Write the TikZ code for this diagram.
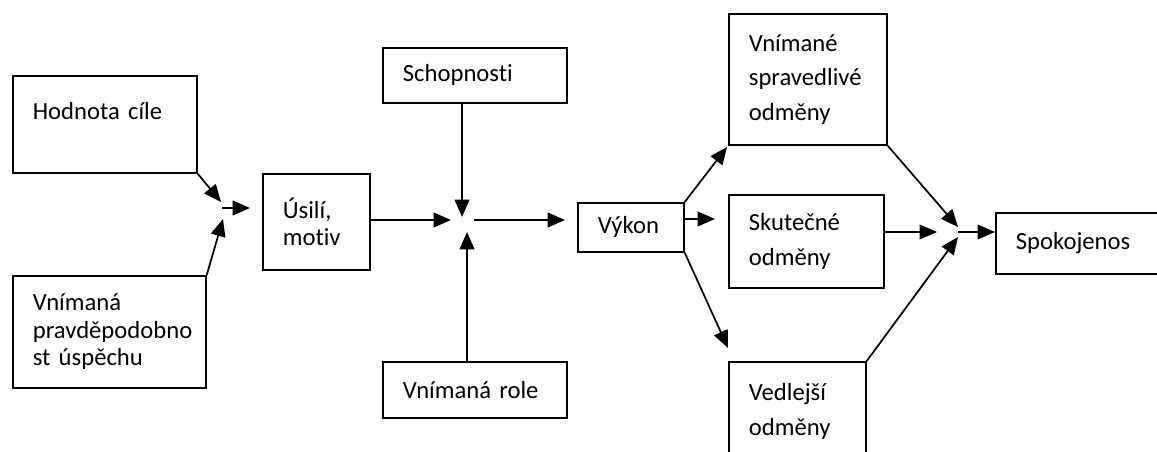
\documentclass[tikz,border=0pt]{standalone}
\usepackage{fontspec}
\setmainfont{Carlito}[Ligatures={NoCommon}]
\usetikzlibrary{arrows.meta}

\def\pxu{0.75pt}
\tikzset{
  box/.style={draw, line width=1.3pt, anchor=north west, inner xsep=20*\pxu, inner ysep=0pt, align=left, font=\fontsize{18.5}{20.5}\selectfont},
  wide/.style={font=\fontsize{18.5}{26}\selectfont},
  arr/.style={line width=1.3pt, -{Triangle[length=13pt,width=11pt]}}
}

\begin{document}
\begin{tikzpicture}[x=\pxu,y=-\pxu]
\useasboundingbox (0,0) rectangle (1157,452);
\clip (0,0) rectangle (1157,452);

\node[box, text width=144*\pxu, minimum height=97*\pxu] (hodnota) at (12,75) {Hodnota cíle\\~};
\node[box, text width=153*\pxu, minimum height=112*\pxu] (pravd) at (12,275) {Vnímaná\\pravděpodobno\\st úspěchu};
\node[box, text width=67*\pxu, minimum height=96*\pxu] (usili) at (262,173) {Úsilí,\\motiv};
\node[box, text width=144*\pxu, minimum height=55*\pxu] (schop) at (382,47) {Schopnosti};
\node[box, text width=144*\pxu, minimum height=56*\pxu] (role) at (382,361) {Vnímaná role};
\node[box, text width=66*\pxu, minimum height=49*\pxu] (vykon) at (577,202) {Výkon};
\node[box, wide, text width=118*\pxu, minimum height=131*\pxu] (sprav) at (728,13) {Vnímané\\spravedlivé\\odměny};
\node[box, wide, text width=115*\pxu, minimum height=93*\pxu] (skut) at (728,194) {Skutečné\\odměny};
\node[box, wide, text width=97*\pxu, minimum height=130*\pxu] (vedl) at (728,361) {Vedlejší\\odměny\\~};
\node[box, text width=145*\pxu, minimum height=61*\pxu] (spok) at (995,212) {Spokojenos};

\coordinate (j1a) at (221,202);
\coordinate (j1b) at (223,219);
\coordinate (j1s) at (222,208);
\coordinate (j1e) at (250,208);
\coordinate (j2a) at (462,217);
\coordinate (j2l) at (451,220);
\coordinate (j2b) at (467,232);
\coordinate (j2s) at (474,220);
\coordinate (j2e) at (565,220);
\coordinate (vk1) at (727,147);
\coordinate (vk2) at (715,219);
\coordinate (vk3) at (728,348);
\coordinate (j3a) at (958,227);
\coordinate (j3m) at (937,232);
\coordinate (j3b) at (958,237);
\coordinate (j3s) at (958,232);

\draw[arr] (hodnota.south east) -- (j1a);
\draw[arr] (pravd.north east) -- (j1b);
\draw[arr] (j1s) -- (j1e);

\draw[arr] (schop.south -| j2a) -- (j2a);
\draw[arr] (role.north -| j2b) -- (j2b);
\draw[arr] (usili.east |- j2l) -- (j2l);
\draw[arr] (j2s) -- (j2e);

\draw[arr] (vykon.north east) -- (vk1);
\draw[arr] (vykon.east |- vk2) -- (vk2);
\draw[arr] (vykon.south east) -- (vk3);

\draw[arr] (sprav.south east) -- (j3a);
\draw[arr] (skut.east |- j3m) -- (j3m);
\draw[arr] (vedl.north east) -- (j3b);
\draw[arr] (j3s) -- (j3s -| spok.west);
\end{tikzpicture}
\end{document}
